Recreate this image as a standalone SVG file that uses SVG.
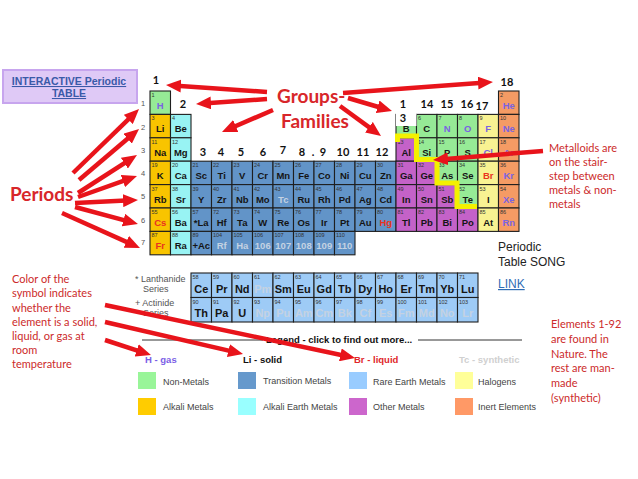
<svg xmlns="http://www.w3.org/2000/svg" width="638" height="479" viewBox="0 0 638 479">
<style>
.tb rect{stroke:#1f1f1f;stroke-width:1.1}
.nm{fill:#96ea96}.al{fill:#f8c400}.ae{fill:#98f3f3}.tm{fill:#6294c8}.om{fill:#c462c8}.ha{fill:#f8f292}.ig{fill:#f59b64}.re{fill:#9ecbf6}
.n{font-family:'Liberation Sans',Arial,sans-serif;font-size:5.5px;fill:#333}
.s{font-family:'Liberation Sans',Arial,sans-serif;font-size:9.5px;font-weight:bold;text-anchor:middle;fill:#151515}
.f{font-size:11px}
.g{fill:#7a63e2}.lq{fill:#ea3220}.sy{fill:#c4d2e2}
.gn{font-family:Lato,'Liberation Sans',sans-serif;font-size:11px;font-weight:bold;text-anchor:middle;fill:#111}
.pn{font-family:'Liberation Sans',Arial,sans-serif;font-size:7.5px;text-anchor:middle;fill:#555}
.red{font-family:Lato,'Liberation Sans',sans-serif;font-size:11px;fill:#cc2a2a}
.big{font-family:Lato,'Liberation Sans',sans-serif;font-size:19px;font-weight:bold;fill:#d8262a}
.lg{font-family:'Liberation Sans',Arial,sans-serif;font-size:9px;fill:#444}
.lh{font-family:'Liberation Sans',Arial,sans-serif;font-size:9.5px;font-weight:bold}
.fl{font-family:'Liberation Sans',Arial,sans-serif;font-size:9px;fill:#555}
.arr line{stroke:#e8141b;stroke-width:4.5;marker-end:url(#ah)}
</style>
<defs>
<marker id="ah" markerUnits="userSpaceOnUse" markerWidth="15" markerHeight="13" refX="8" refY="6.5" orient="auto"><path d="M0,0 L15,6.5 L0,13 z" fill="#e8141b"/></marker>
</defs>
<rect width="638" height="479" fill="#fff"/>

<g id="interactive-link">
<rect x="3" y="70" width="134" height="33" fill="#dfc9f6" stroke="#c7a5ee" stroke-width="2"/>
<text x="69" y="85" text-anchor="middle" font-family="'Liberation Sans',Arial,sans-serif" font-size="10.5" font-weight="bold" fill="#3a5aa8" text-decoration="underline">INTERACTIVE Periodic</text>
<text x="69" y="97" text-anchor="middle" font-family="'Liberation Sans',Arial,sans-serif" font-size="10.5" font-weight="bold" fill="#3a5aa8" text-decoration="underline">TABLE</text>
</g>

<g id="periodic-table" class="tb">
<g id="e1" transform="translate(150,91)"><rect class="nm" width="20.5" height="23.4"/><text class="n" x="1.5" y="6">1</text><text class="s g" x="10.25" y="18">H</text></g>
<g id="e2" transform="translate(498.5,91)"><rect class="ig" width="20.5" height="23.4"/><text class="n" x="1.5" y="6">2</text><text class="s g" x="10.25" y="18">He</text></g>

<g id="e3" transform="translate(150,114.4)"><rect class="al" width="20.5" height="23.4"/><text class="n" x="1.5" y="6">3</text><text class="s" x="10.25" y="18">Li</text></g>
<g id="e4" transform="translate(170.5,114.4)"><rect class="ae" width="20.5" height="23.4"/><text class="n" x="1.5" y="6">4</text><text class="s" x="10.25" y="18">Be</text></g>
<g id="e5" transform="translate(396,114.4)"><rect class="nm" width="20.5" height="23.4"/><text class="n" x="1.5" y="6">5</text><text class="s" x="10.25" y="18">B</text></g>
<g id="e6" transform="translate(416.5,114.4)"><rect class="nm" width="20.5" height="23.4"/><text class="n" x="1.5" y="6">6</text><text class="s" x="10.25" y="18">C</text></g>
<g id="e7" transform="translate(437,114.4)"><rect class="nm" width="20.5" height="23.4"/><text class="n" x="1.5" y="6">7</text><text class="s g" x="10.25" y="18">N</text></g>
<g id="e8" transform="translate(457.5,114.4)"><rect class="nm" width="20.5" height="23.4"/><text class="n" x="1.5" y="6">8</text><text class="s g" x="10.25" y="18">O</text></g>
<g id="e9" transform="translate(478,114.4)"><rect class="ha" width="20.5" height="23.4"/><text class="n" x="1.5" y="6">9</text><text class="s g" x="10.25" y="18">F</text></g>
<g id="e10" transform="translate(498.5,114.4)"><rect class="ig" width="20.5" height="23.4"/><text class="n" x="1.5" y="6">10</text><text class="s g" x="10.25" y="18">Ne</text></g>

<g id="e11" transform="translate(150,137.8)"><rect class="al" width="20.5" height="23.4"/><text class="n" x="1.5" y="6">11</text><text class="s" x="10.25" y="18">Na</text></g>
<g id="e12" transform="translate(170.5,137.8)"><rect class="ae" width="20.5" height="23.4"/><text class="n" x="1.5" y="6">12</text><text class="s" x="10.25" y="18">Mg</text></g>
<g id="e13" transform="translate(396,137.8)"><rect class="om" width="20.5" height="23.4"/><text class="n" x="1.5" y="6">13</text><text class="s" x="10.25" y="18">Al</text></g>
<g id="e14" transform="translate(416.5,137.8)"><rect class="nm" width="20.5" height="23.4"/><text class="n" x="1.5" y="6">14</text><text class="s" x="10.25" y="18">Si</text></g>
<g id="e15" transform="translate(437,137.8)"><rect class="nm" width="20.5" height="23.4"/><text class="n" x="1.5" y="6">15</text><text class="s" x="10.25" y="18">P</text></g>
<g id="e16" transform="translate(457.5,137.8)"><rect class="nm" width="20.5" height="23.4"/><text class="n" x="1.5" y="6">16</text><text class="s" x="10.25" y="18">S</text></g>
<g id="e17" transform="translate(478,137.8)"><rect class="ha" width="20.5" height="23.4"/><text class="n" x="1.5" y="6">17</text><text class="s g" x="10.25" y="18">Cl</text></g>
<g id="e18" transform="translate(498.5,137.8)"><rect class="ig" width="20.5" height="23.4"/><text class="n" x="1.5" y="6">18</text><text class="s g" x="10.25" y="18">Ar</text></g>

<g id="e19" transform="translate(150,161.2)"><rect class="al" width="20.5" height="23.4"/><text class="n" x="1.5" y="6">19</text><text class="s" x="10.25" y="18">K</text></g>
<g id="e20" transform="translate(170.5,161.2)"><rect class="ae" width="20.5" height="23.4"/><text class="n" x="1.5" y="6">20</text><text class="s" x="10.25" y="18">Ca</text></g>
<g id="e21" transform="translate(191,161.2)"><rect class="tm" width="20.5" height="23.4"/><text class="n" x="1.5" y="6">21</text><text class="s" x="10.25" y="18">Sc</text></g>
<g id="e22" transform="translate(211.5,161.2)"><rect class="tm" width="20.5" height="23.4"/><text class="n" x="1.5" y="6">22</text><text class="s" x="10.25" y="18">Ti</text></g>
<g id="e23" transform="translate(232,161.2)"><rect class="tm" width="20.5" height="23.4"/><text class="n" x="1.5" y="6">23</text><text class="s" x="10.25" y="18">V</text></g>
<g id="e24" transform="translate(252.5,161.2)"><rect class="tm" width="20.5" height="23.4"/><text class="n" x="1.5" y="6">24</text><text class="s" x="10.25" y="18">Cr</text></g>
<g id="e25" transform="translate(273,161.2)"><rect class="tm" width="20.5" height="23.4"/><text class="n" x="1.5" y="6">25</text><text class="s" x="10.25" y="18">Mn</text></g>
<g id="e26" transform="translate(293.5,161.2)"><rect class="tm" width="20.5" height="23.4"/><text class="n" x="1.5" y="6">26</text><text class="s" x="10.25" y="18">Fe</text></g>
<g id="e27" transform="translate(314,161.2)"><rect class="tm" width="20.5" height="23.4"/><text class="n" x="1.5" y="6">27</text><text class="s" x="10.25" y="18">Co</text></g>
<g id="e28" transform="translate(334.5,161.2)"><rect class="tm" width="20.5" height="23.4"/><text class="n" x="1.5" y="6">28</text><text class="s" x="10.25" y="18">Ni</text></g>
<g id="e29" transform="translate(355,161.2)"><rect class="tm" width="20.5" height="23.4"/><text class="n" x="1.5" y="6">29</text><text class="s" x="10.25" y="18">Cu</text></g>
<g id="e30" transform="translate(375.5,161.2)"><rect class="tm" width="20.5" height="23.4"/><text class="n" x="1.5" y="6">30</text><text class="s" x="10.25" y="18">Zn</text></g>
<g id="e31" transform="translate(396,161.2)"><rect class="om" width="20.5" height="23.4"/><text class="n" x="1.5" y="6">31</text><text class="s" x="10.25" y="18">Ga</text></g>
<g id="e32" transform="translate(416.5,161.2)"><rect class="om" width="20.5" height="23.4"/><text class="n" x="1.5" y="6">32</text><text class="s" x="10.25" y="18">Ge</text></g>
<g id="e33" transform="translate(437,161.2)"><rect class="nm" width="20.5" height="23.4"/><text class="n" x="1.5" y="6">33</text><text class="s" x="10.25" y="18">As</text></g>
<g id="e34" transform="translate(457.5,161.2)"><rect class="nm" width="20.5" height="23.4"/><text class="n" x="1.5" y="6">34</text><text class="s" x="10.25" y="18">Se</text></g>
<g id="e35" transform="translate(478,161.2)"><rect class="ha" width="20.5" height="23.4"/><text class="n" x="1.5" y="6">35</text><text class="s lq" x="10.25" y="18">Br</text></g>
<g id="e36" transform="translate(498.5,161.2)"><rect class="ig" width="20.5" height="23.4"/><text class="n" x="1.5" y="6">36</text><text class="s g" x="10.25" y="18">Kr</text></g>

<g id="e37" transform="translate(150,184.6)"><rect class="al" width="20.5" height="23.4"/><text class="n" x="1.5" y="6">37</text><text class="s" x="10.25" y="18">Rb</text></g>
<g id="e38" transform="translate(170.5,184.6)"><rect class="ae" width="20.5" height="23.4"/><text class="n" x="1.5" y="6">38</text><text class="s" x="10.25" y="18">Sr</text></g>
<g id="e39" transform="translate(191,184.6)"><rect class="tm" width="20.5" height="23.4"/><text class="n" x="1.5" y="6">39</text><text class="s" x="10.25" y="18">Y</text></g>
<g id="e40" transform="translate(211.5,184.6)"><rect class="tm" width="20.5" height="23.4"/><text class="n" x="1.5" y="6">40</text><text class="s" x="10.25" y="18">Zr</text></g>
<g id="e41" transform="translate(232,184.6)"><rect class="tm" width="20.5" height="23.4"/><text class="n" x="1.5" y="6">41</text><text class="s" x="10.25" y="18">Nb</text></g>
<g id="e42" transform="translate(252.5,184.6)"><rect class="tm" width="20.5" height="23.4"/><text class="n" x="1.5" y="6">42</text><text class="s" x="10.25" y="18">Mo</text></g>
<g id="e43" transform="translate(273,184.6)"><rect class="tm" width="20.5" height="23.4"/><text class="n" x="1.5" y="6">43</text><text class="s sy" x="10.25" y="18">Tc</text></g>
<g id="e44" transform="translate(293.5,184.6)"><rect class="tm" width="20.5" height="23.4"/><text class="n" x="1.5" y="6">44</text><text class="s" x="10.25" y="18">Ru</text></g>
<g id="e45" transform="translate(314,184.6)"><rect class="tm" width="20.5" height="23.4"/><text class="n" x="1.5" y="6">45</text><text class="s" x="10.25" y="18">Rh</text></g>
<g id="e46" transform="translate(334.5,184.6)"><rect class="tm" width="20.5" height="23.4"/><text class="n" x="1.5" y="6">46</text><text class="s" x="10.25" y="18">Pd</text></g>
<g id="e47" transform="translate(355,184.6)"><rect class="tm" width="20.5" height="23.4"/><text class="n" x="1.5" y="6">47</text><text class="s" x="10.25" y="18">Ag</text></g>
<g id="e48" transform="translate(375.5,184.6)"><rect class="tm" width="20.5" height="23.4"/><text class="n" x="1.5" y="6">48</text><text class="s" x="10.25" y="18">Cd</text></g>
<g id="e49" transform="translate(396,184.6)"><rect class="om" width="20.5" height="23.4"/><text class="n" x="1.5" y="6">49</text><text class="s" x="10.25" y="18">In</text></g>
<g id="e50" transform="translate(416.5,184.6)"><rect class="om" width="20.5" height="23.4"/><text class="n" x="1.5" y="6">50</text><text class="s" x="10.25" y="18">Sn</text></g>
<g id="e51" transform="translate(437,184.6)"><rect class="om" width="20.5" height="23.4"/><text class="n" x="1.5" y="6">51</text><text class="s" x="10.25" y="18">Sb</text></g>
<g id="e52" transform="translate(457.5,184.6)"><rect class="nm" width="20.5" height="23.4"/><text class="n" x="1.5" y="6">52</text><text class="s" x="10.25" y="18">Te</text></g>
<g id="e53" transform="translate(478,184.6)"><rect class="ha" width="20.5" height="23.4"/><text class="n" x="1.5" y="6">53</text><text class="s" x="10.25" y="18">I</text></g>
<g id="e54" transform="translate(498.5,184.6)"><rect class="ig" width="20.5" height="23.4"/><text class="n" x="1.5" y="6">54</text><text class="s g" x="10.25" y="18">Xe</text></g>

<g id="e55" transform="translate(150,208)"><rect class="al" width="20.5" height="23.4"/><text class="n" x="1.5" y="6">55</text><text class="s lq" x="10.25" y="18">Cs</text></g>
<g id="e56" transform="translate(170.5,208)"><rect class="ae" width="20.5" height="23.4"/><text class="n" x="1.5" y="6">56</text><text class="s" x="10.25" y="18">Ba</text></g>
<g id="e57" transform="translate(191,208)"><rect class="tm" width="20.5" height="23.4"/><text class="n" x="1.5" y="6">57</text><text class="s" x="10.25" y="18">*La</text></g>
<g id="e72" transform="translate(211.5,208)"><rect class="tm" width="20.5" height="23.4"/><text class="n" x="1.5" y="6">72</text><text class="s" x="10.25" y="18">Hf</text></g>
<g id="e73" transform="translate(232,208)"><rect class="tm" width="20.5" height="23.4"/><text class="n" x="1.5" y="6">73</text><text class="s" x="10.25" y="18">Ta</text></g>
<g id="e74" transform="translate(252.5,208)"><rect class="tm" width="20.5" height="23.4"/><text class="n" x="1.5" y="6">74</text><text class="s" x="10.25" y="18">W</text></g>
<g id="e75" transform="translate(273,208)"><rect class="tm" width="20.5" height="23.4"/><text class="n" x="1.5" y="6">75</text><text class="s" x="10.25" y="18">Re</text></g>
<g id="e76" transform="translate(293.5,208)"><rect class="tm" width="20.5" height="23.4"/><text class="n" x="1.5" y="6">76</text><text class="s" x="10.25" y="18">Os</text></g>
<g id="e77" transform="translate(314,208)"><rect class="tm" width="20.5" height="23.4"/><text class="n" x="1.5" y="6">77</text><text class="s" x="10.25" y="18">Ir</text></g>
<g id="e78" transform="translate(334.5,208)"><rect class="tm" width="20.5" height="23.4"/><text class="n" x="1.5" y="6">78</text><text class="s" x="10.25" y="18">Pt</text></g>
<g id="e79" transform="translate(355,208)"><rect class="tm" width="20.5" height="23.4"/><text class="n" x="1.5" y="6">79</text><text class="s" x="10.25" y="18">Au</text></g>
<g id="e80" transform="translate(375.5,208)"><rect class="tm" width="20.5" height="23.4"/><text class="n" x="1.5" y="6">80</text><text class="s lq" x="10.25" y="18">Hg</text></g>
<g id="e81" transform="translate(396,208)"><rect class="om" width="20.5" height="23.4"/><text class="n" x="1.5" y="6">81</text><text class="s" x="10.25" y="18">Tl</text></g>
<g id="e82" transform="translate(416.5,208)"><rect class="om" width="20.5" height="23.4"/><text class="n" x="1.5" y="6">82</text><text class="s" x="10.25" y="18">Pb</text></g>
<g id="e83" transform="translate(437,208)"><rect class="om" width="20.5" height="23.4"/><text class="n" x="1.5" y="6">83</text><text class="s" x="10.25" y="18">Bi</text></g>
<g id="e84" transform="translate(457.5,208)"><rect class="om" width="20.5" height="23.4"/><text class="n" x="1.5" y="6">84</text><text class="s" x="10.25" y="18">Po</text></g>
<g id="e85" transform="translate(478,208)"><rect class="ha" width="20.5" height="23.4"/><text class="n" x="1.5" y="6">85</text><text class="s" x="10.25" y="18">At</text></g>
<g id="e86" transform="translate(498.5,208)"><rect class="ig" width="20.5" height="23.4"/><text class="n" x="1.5" y="6">86</text><text class="s g" x="10.25" y="18">Rn</text></g>

<g id="e87" transform="translate(150,231.4)"><rect class="al" width="20.5" height="23.4"/><text class="n" x="1.5" y="6">87</text><text class="s lq" x="10.25" y="18">Fr</text></g>
<g id="e88" transform="translate(170.5,231.4)"><rect class="ae" width="20.5" height="23.4"/><text class="n" x="1.5" y="6">88</text><text class="s" x="10.25" y="18">Ra</text></g>
<g id="e89" transform="translate(191,231.4)"><rect class="tm" width="20.5" height="23.4"/><text class="n" x="1.5" y="6">89</text><text class="s" x="10.25" y="18">+Ac</text></g>
<g id="e104" transform="translate(211.5,231.4)"><rect class="tm" width="20.5" height="23.4"/><text class="n" x="1.5" y="6">104</text><text class="s sy" x="10.25" y="18">Rf</text></g>
<g id="e105" transform="translate(232,231.4)"><rect class="tm" width="20.5" height="23.4"/><text class="n" x="1.5" y="6">105</text><text class="s sy" x="10.25" y="18">Ha</text></g>
<g id="e106" transform="translate(252.5,231.4)"><rect class="tm" width="20.5" height="23.4"/><text class="n" x="1.5" y="6">106</text><text class="s sy" x="10.25" y="18">106</text></g>
<g id="e107" transform="translate(273,231.4)"><rect class="tm" width="20.5" height="23.4"/><text class="n" x="1.5" y="6">107</text><text class="s sy" x="10.25" y="18">107</text></g>
<g id="e108" transform="translate(293.5,231.4)"><rect class="tm" width="20.5" height="23.4"/><text class="n" x="1.5" y="6">108</text><text class="s sy" x="10.25" y="18">108</text></g>
<g id="e109" transform="translate(314,231.4)"><rect class="tm" width="20.5" height="23.4"/><text class="n" x="1.5" y="6">109</text><text class="s sy" x="10.25" y="18">109</text></g>
<g id="e110" transform="translate(334.5,231.4)"><rect class="tm" width="20.5" height="23.4"/><text class="n" x="1.5" y="6">110</text><text class="s sy" x="10.25" y="18">110</text></g>
</g>

<rect x="396" y="113" width="20.5" height="13" fill="#fff"/>
<path id="metalloid-stair" d="M397.5,142 L397.5,136 L416.5,136 L416.5,159.5 L437,159.5 L437,183 L457,183 L457,206.5 L477,206.5" fill="none" stroke="#f4f000" stroke-width="5"/>

<g id="group-numbers">
<text class="gn" x="156" y="84">1</text>
<text class="gn" x="183" y="108">2</text>
<text class="gn" x="203" y="156">3</text>
<text class="gn" x="221" y="156">4</text>
<text class="gn" x="241" y="156">5</text>
<text class="gn" x="263" y="156">6</text>
<text class="gn" x="283" y="154">7</text>
<text class="gn" x="302" y="156">8</text>
<text class="gn" x="313" y="156" font-size="6" fill="#888">.</text>
<text class="gn" x="323" y="156">9</text>
<text class="gn" x="343" y="156">10</text>
<text class="gn" x="363" y="156">11</text>
<text class="gn" x="382" y="156">12</text>
<text class="gn" x="403" y="108">1</text>
<text class="gn" x="403" y="122">3</text>
<text class="gn" x="427" y="108">14</text>
<text class="gn" x="447" y="108">15</text>
<text class="gn" x="467" y="108">16</text>
<text class="gn" x="482" y="110">17</text>
<text class="gn" x="507" y="86">18</text>
</g>

<g id="period-numbers">
<text class="pn" x="143" y="106">1</text>
<text class="pn" x="143" y="130">2</text>
<text class="pn" x="143" y="153">3</text>
<text class="pn" x="143" y="176">4</text>
<text class="pn" x="143" y="199">5</text>
<text class="pn" x="143" y="223">6</text>
<text class="pn" x="143" y="245">7</text>
</g>

<g id="f-block" class="tb">
<text class="fl" x="135" y="282">* Lanthanide</text>
<text class="fl" x="143" y="292">Series</text>
<text class="fl" x="135" y="306">+ Actinide</text>
<text class="fl" x="143" y="316">Series</text>
<g id="e58" transform="translate(191,273)"><rect class="re" width="20.5" height="24.5"/><text class="n" x="1.5" y="6">58</text><text class="s f" x="10.25" y="19.5">Ce</text></g>
<g id="e59" transform="translate(211.5,273)"><rect class="re" width="20.5" height="24.5"/><text class="n" x="1.5" y="6">59</text><text class="s f" x="10.25" y="19.5">Pr</text></g>
<g id="e60" transform="translate(232,273)"><rect class="re" width="20.5" height="24.5"/><text class="n" x="1.5" y="6">60</text><text class="s f" x="10.25" y="19.5">Nd</text></g>
<g id="e61" transform="translate(252.5,273)"><rect class="re" width="20.5" height="24.5"/><text class="n" x="1.5" y="6">61</text><text class="s f sy" x="10.25" y="19.5">Pm</text></g>
<g id="e62" transform="translate(273,273)"><rect class="re" width="20.5" height="24.5"/><text class="n" x="1.5" y="6">62</text><text class="s f" x="10.25" y="19.5">Sm</text></g>
<g id="e63" transform="translate(293.5,273)"><rect class="re" width="20.5" height="24.5"/><text class="n" x="1.5" y="6">63</text><text class="s f" x="10.25" y="19.5">Eu</text></g>
<g id="e64" transform="translate(314,273)"><rect class="re" width="20.5" height="24.5"/><text class="n" x="1.5" y="6">64</text><text class="s f" x="10.25" y="19.5">Gd</text></g>
<g id="e65" transform="translate(334.5,273)"><rect class="re" width="20.5" height="24.5"/><text class="n" x="1.5" y="6">65</text><text class="s f" x="10.25" y="19.5">Tb</text></g>
<g id="e66" transform="translate(355,273)"><rect class="re" width="20.5" height="24.5"/><text class="n" x="1.5" y="6">66</text><text class="s f" x="10.25" y="19.5">Dy</text></g>
<g id="e67" transform="translate(375.5,273)"><rect class="re" width="20.5" height="24.5"/><text class="n" x="1.5" y="6">67</text><text class="s f" x="10.25" y="19.5">Ho</text></g>
<g id="e68" transform="translate(396,273)"><rect class="re" width="20.5" height="24.5"/><text class="n" x="1.5" y="6">68</text><text class="s f" x="10.25" y="19.5">Er</text></g>
<g id="e69" transform="translate(416.5,273)"><rect class="re" width="20.5" height="24.5"/><text class="n" x="1.5" y="6">69</text><text class="s f" x="10.25" y="19.5">Tm</text></g>
<g id="e70" transform="translate(437,273)"><rect class="re" width="20.5" height="24.5"/><text class="n" x="1.5" y="6">70</text><text class="s f" x="10.25" y="19.5">Yb</text></g>
<g id="e71" transform="translate(457.5,273)"><rect class="re" width="20.5" height="24.5"/><text class="n" x="1.5" y="6">71</text><text class="s f" x="10.25" y="19.5">Lu</text></g>

<g id="e90" transform="translate(191,297.5)"><rect class="re" width="20.5" height="24.5"/><text class="n" x="1.5" y="6">90</text><text class="s f" x="10.25" y="19.5">Th</text></g>
<g id="e91" transform="translate(211.5,297.5)"><rect class="re" width="20.5" height="24.5"/><text class="n" x="1.5" y="6">91</text><text class="s f" x="10.25" y="19.5">Pa</text></g>
<g id="e92" transform="translate(232,297.5)"><rect class="re" width="20.5" height="24.5"/><text class="n" x="1.5" y="6">92</text><text class="s f" x="10.25" y="19.5">U</text></g>
<g id="e93" transform="translate(252.5,297.5)"><rect class="re" width="20.5" height="24.5"/><text class="n" x="1.5" y="6">93</text><text class="s f sy" x="10.25" y="19.5">Np</text></g>
<g id="e94" transform="translate(273,297.5)"><rect class="re" width="20.5" height="24.5"/><text class="n" x="1.5" y="6">94</text><text class="s f sy" x="10.25" y="19.5">Pu</text></g>
<g id="e95" transform="translate(293.5,297.5)"><rect class="re" width="20.5" height="24.5"/><text class="n" x="1.5" y="6">95</text><text class="s f sy" x="10.25" y="19.5">Am</text></g>
<g id="e96" transform="translate(314,297.5)"><rect class="re" width="20.5" height="24.5"/><text class="n" x="1.5" y="6">96</text><text class="s f sy" x="10.25" y="19.5">Cm</text></g>
<g id="e97" transform="translate(334.5,297.5)"><rect class="re" width="20.5" height="24.5"/><text class="n" x="1.5" y="6">97</text><text class="s f sy" x="10.25" y="19.5">Bk</text></g>
<g id="e98" transform="translate(355,297.5)"><rect class="re" width="20.5" height="24.5"/><text class="n" x="1.5" y="6">98</text><text class="s f sy" x="10.25" y="19.5">Cf</text></g>
<g id="e99" transform="translate(375.5,297.5)"><rect class="re" width="20.5" height="24.5"/><text class="n" x="1.5" y="6">99</text><text class="s f sy" x="10.25" y="19.5">Es</text></g>
<g id="e100" transform="translate(396,297.5)"><rect class="re" width="20.5" height="24.5"/><text class="n" x="1.5" y="6">100</text><text class="s f sy" x="10.25" y="19.5">Fm</text></g>
<g id="e101" transform="translate(416.5,297.5)"><rect class="re" width="20.5" height="24.5"/><text class="n" x="1.5" y="6">101</text><text class="s f sy" x="10.25" y="19.5">Md</text></g>
<g id="e102" transform="translate(437,297.5)"><rect class="re" width="20.5" height="24.5"/><text class="n" x="1.5" y="6">102</text><text class="s f sy" x="10.25" y="19.5">No</text></g>
<g id="e103" transform="translate(457.5,297.5)"><rect class="re" width="20.5" height="24.5"/><text class="n" x="1.5" y="6">103</text><text class="s f sy" x="10.25" y="19.5">Lr</text></g>
</g>

<g id="legend">
<line x1="142" y1="340" x2="263" y2="340" stroke="#333" stroke-width="1"/>
<line x1="418" y1="340" x2="522" y2="340" stroke="#333" stroke-width="1"/>
<text class="lh" x="266" y="343" fill="#111">Legend - click to find out more...</text>
<text class="lh" x="145" y="363" fill="#7b5ee6">H - gas</text>
<text class="lh" x="243" y="363" fill="#111">Li - solid</text>
<text class="lh" x="354" y="363" fill="#e0262a">Br - liquid</text>
<text class="lh" x="459" y="363" fill="#d0d0d0">Tc - synthetic</text>
<rect x="138" y="372" width="18" height="17" fill="#99f599"/><text class="lg" x="163" y="385">Non-Metals</text>
<rect x="138" y="398" width="18" height="17" fill="#ffcc00"/><text class="lg" x="163" y="410">Alkali Metals</text>
<rect x="238" y="372" width="18" height="17" fill="#6699cc"/><text class="lg" x="263" y="384">Transition Metals</text>
<rect x="238" y="398" width="18" height="17" fill="#99ffff"/><text class="lg" x="263" y="410">Alkali Earth Metals</text>
<rect x="349" y="372" width="18" height="17" fill="#99ccff"/><text class="lg" x="373" y="385">Rare Earth Metals</text>
<rect x="349" y="398" width="18" height="17" fill="#cc66cc"/><text class="lg" x="373" y="410">Other Metals</text>
<rect x="455" y="372" width="18" height="17" fill="#ffff99"/><text class="lg" x="478" y="385">Halogens</text>
<rect x="455" y="398" width="18" height="17" fill="#ff9966"/><text class="lg" x="478" y="410">Inert Elements</text>
</g>

<g id="periods-label"><text class="big" x="10" y="201">Periods</text></g>
<g id="groups-label"><text class="big" x="277" y="103">Groups-</text><text class="big" x="281" y="128">Families</text></g>

<g id="metalloids-note" class="red">
<text x="549" y="152">Metalloids are</text>
<text x="549" y="166">on the stair-</text>
<text x="549" y="180">step between</text>
<text x="549" y="194">metals &amp; non-</text>
<text x="549" y="208">metals</text>
</g>

<g id="song-note" font-family="'Liberation Sans',Arial,sans-serif" font-size="12" fill="#222">
<text x="498" y="251">Periodic</text>
<text x="498" y="266">Table SONG</text>
</g>
<g id="song-link"><text x="498" y="288" font-family="'Liberation Sans',Arial,sans-serif" font-size="12" fill="#2f6db5" text-decoration="underline">LINK</text></g>

<g id="elements-note" class="red">
<text x="551" y="328">Elements 1-92</text>
<text x="551" y="343">are found in</text>
<text x="551" y="358">Nature.  The</text>
<text x="551" y="372">rest are man-</text>
<text x="551" y="387">made</text>
<text x="551" y="402">(synthetic)</text>
</g>

<g id="color-note" class="red">
<text x="12" y="283">Color of the</text>
<text x="12" y="297">symbol indicates</text>
<text x="12" y="312">whether the</text>
<text x="12" y="326">element is a solid,</text>
<text x="12" y="340">liquid, or gas at</text>
<text x="12" y="354">room</text>
<text x="12" y="368">temperature</text>
</g>

<g id="connectors" class="arr">
<line x1="73" y1="173" x2="134" y2="113.9"/>
<line x1="79" y1="180" x2="133.7" y2="133.5"/>
<line x1="78" y1="193" x2="131.1" y2="158.8"/>
<line x1="78" y1="197" x2="130.4" y2="178.3"/>
<line x1="75" y1="203" x2="131" y2="200.3"/>
<line x1="75" y1="207" x2="131.2" y2="222.2"/>
<line x1="62" y1="213" x2="133.6" y2="245.1"/>
<line x1="267" y1="92" x2="173" y2="85.5"/>
<line x1="267" y1="99" x2="203" y2="103.5"/>
<line x1="273" y1="110" x2="228.4" y2="129.2"/>
<line x1="343" y1="93" x2="486" y2="82.5"/>
<line x1="348" y1="98" x2="385.3" y2="109"/>
<line x1="340" y1="106" x2="375.4" y2="131.9"/>
<line x1="543" y1="151" x2="440" y2="159.4"/>
<line x1="105" y1="305" x2="348.2" y2="356.5"/>
<line x1="105" y1="322" x2="236.2" y2="352.4"/>
<line x1="105" y1="340" x2="144.3" y2="352.8"/>
</g>
</svg>
